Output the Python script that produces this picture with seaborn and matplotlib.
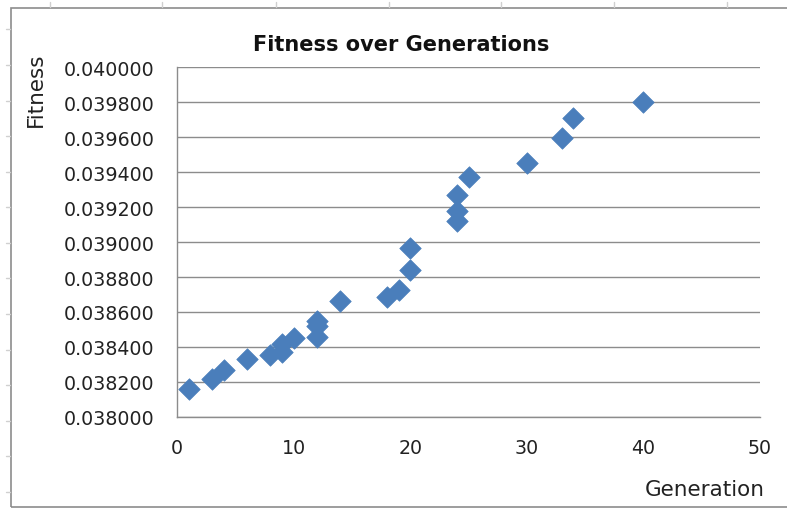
import numpy as np
import pandas as pd
import seaborn as sns
import matplotlib.pyplot as plt
from matplotlib.patches import Rectangle
from matplotlib.lines import Line2D
from matplotlib.ticker import FormatStrFormatter

# Data
generation = [1, 3, 4, 6, 8, 9, 9, 10, 12, 12, 12, 14, 18, 19, 20, 20, 24, 24, 24, 25, 30, 33, 34, 40]
fitness = [0.038160, 0.038217, 0.038269, 0.038331, 0.038354, 0.038371, 0.038417, 0.038454,
           0.038457, 0.038520, 0.038549, 0.038665, 0.038684, 0.038727, 0.038842, 0.038964,
           0.039122, 0.039179, 0.039269, 0.039370, 0.039451, 0.039592, 0.039707, 0.039798]

df = pd.DataFrame({"Generation": generation, "Fitness": fitness})

sns.set_style("white")
plt.rcParams['font.family'] = ['DejaVu Sans']

W, H = 787, 510
fig = plt.figure(figsize=(W / 100, H / 100), dpi=100)
ax = fig.add_axes([177 / W, 1 - 418 / H, (760 - 177) / W, (418 - 68) / H])

# outer chart frame (right edge runs off the picture)
fig.patches.append(Rectangle((11 / W, 1 - 508 / H), 1.05, (508 - 9) / H, transform=fig.transFigure,
                             fill=False, edgecolor='#8c8c8c', linewidth=1.2))
# spreadsheet cell marks outside the frame
for px in [50, 162, 276, 389, 501, 614, 727]:
    fig.lines.append(Line2D([px / W, px / W], [1 - 3 / H, 1 - 8 / H], transform=fig.transFigure,
                            color='#d0d0d0', linewidth=1))
for py in [30, 66, 102, 137, 173, 208, 244, 279, 315, 351, 386, 422, 457, 493]:
    fig.lines.append(Line2D([6 / W, 10 / W], [1 - py / H, 1 - py / H], transform=fig.transFigure,
                            color='#d0d0d0', linewidth=1))

sns.scatterplot(data=df, x="Generation", y="Fitness", ax=ax, marker='D', s=120,
                color='#4a7ebb', edgecolor='#4a7ebb', linewidth=0.5, zorder=3)

ax.set_xlim(0, 50)
ax.set_ylim(0.038, 0.040)
ax.set_xticks(np.arange(0, 51, 10))
ax.set_yticks(np.arange(0.038, 0.04001, 0.0002))
ax.yaxis.set_major_formatter(FormatStrFormatter('%.6f'))

ax.grid(axis='y', color='#8c8c8c', linewidth=1.0)
ax.set_axisbelow(True)
for side in ['top', 'right']:
    ax.spines[side].set_visible(False)
for side in ['left', 'bottom']:
    ax.spines[side].set_color('#8c8c8c')
    ax.spines[side].set_linewidth(1.0)

ax.tick_params(axis='both', direction='out', length=6, width=1.0, color='#8c8c8c',
               labelsize=13.7, labelcolor='#222222')
ax.tick_params(axis='x', pad=9)
ax.tick_params(axis='y', pad=10)

ax.set_xlabel("")
ax.set_ylabel("")
fig.text(401 / W, 1 - 45 / H, "Fitness over Generations", ha='center', va='center',
         fontsize=15, fontweight='bold', color='#111111')
fig.text(36 / W, 1 - 90 / H, "Fitness", rotation=90, ha='center', va='center',
         fontsize=15.5, color='#222222')
fig.text(705 / W, 1 - 490 / H, "Generation", ha='center', va='center',
         fontsize=15.5, color='#222222')

fig.savefig("out.png", dpi=100)
